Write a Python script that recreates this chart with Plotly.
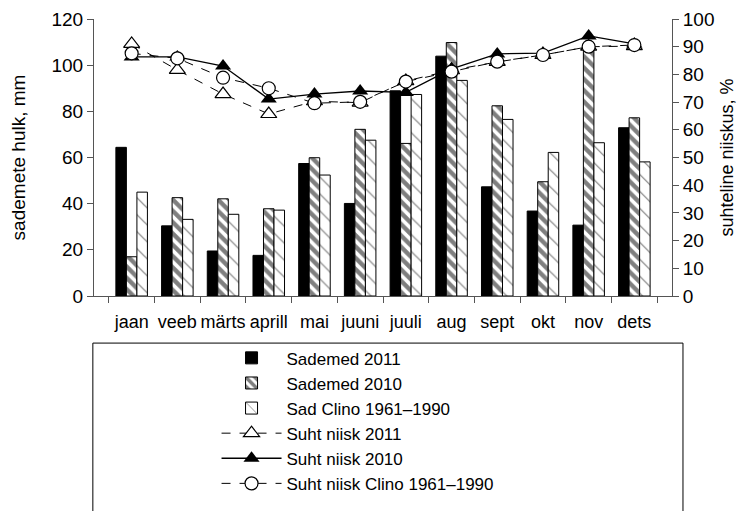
import plotly.graph_objects as go

months = ['jaan', 'veeb', 'märts', 'aprill', 'mai', 'juuni', 'juuli', 'aug', 'sept', 'okt', 'nov', 'dets']

# precipitation, mm
sad_2011 = [64.4, 30.4, 19.5, 17.6, 57.4, 40.1, 88.9, 103.9, 47.3, 36.8, 30.7, 72.9]
sad_2010 = [17.0, 42.6, 42.1, 37.8, 59.9, 72.2, 66.1, 109.8, 82.4, 49.5, 109.5, 77.2]
sad_clino = [45.0, 33.2, 35.4, 37.2, 52.4, 67.5, 87.3, 93.4, 76.5, 62.2, 66.4, 58.1]

# relative humidity, %
niisk_2011 = [91.0, 81.6, 72.9, 65.7, 70.3, 69.8, 77.6, 81.5, 84.5, 87.0, 90.0, 90.2]
niisk_2010 = [86.3, 86.3, 83.0, 71.1, 72.9, 74.0, 73.5, 82.0, 87.4, 87.7, 93.9, 91.0]
niisk_clino = [87.6, 85.8, 78.8, 75.0, 69.6, 70.1, 77.4, 81.0, 84.6, 87.0, 90.0, 90.6]

fig = go.Figure()

fig.add_trace(go.Bar(x=months, y=sad_2011, name='Sademed 2011',
                     marker=dict(color='black', line=dict(color='black', width=1))))
fig.add_trace(go.Bar(x=months, y=sad_2010, name='Sademed 2010',
                     marker=dict(color='white', line=dict(color='black', width=1),
                                 pattern=dict(shape='\\', fgcolor='black', bgcolor='white',
                                              size=8, solidity=0.55))))
fig.add_trace(go.Bar(x=months, y=sad_clino, name='Sad Clino 1961–1990',
                     marker=dict(color='white', line=dict(color='black', width=1),
                                 pattern=dict(shape='\\', fgcolor='black', bgcolor='white',
                                              size=12, solidity=0.1))))

fig.add_trace(go.Scatter(x=months, y=niisk_2011, name='Suht niisk 2011', yaxis='y2',
                         mode='lines+markers',
                         line=dict(color='black', width=1, dash='dash'),
                         marker=dict(symbol='triangle-up', size=14, color='white',
                                     line=dict(color='black', width=1.2))))
fig.add_trace(go.Scatter(x=months, y=niisk_2010, name='Suht niisk 2010', yaxis='y2',
                         mode='lines+markers',
                         line=dict(color='black', width=1.3),
                         marker=dict(symbol='triangle-up', size=14, color='black')))
fig.add_trace(go.Scatter(x=months, y=niisk_clino, name='Suht niisk Clino 1961–1990', yaxis='y2',
                         mode='lines+markers',
                         line=dict(color='black', width=1, dash='dash'),
                         marker=dict(symbol='circle', size=13, color='white',
                                     line=dict(color='black', width=1.2))))

axis_font = dict(family='Liberation Sans, Arial, sans-serif', size=19, color='black')

# page body has an 8px margin, so the figure is 8px smaller each way
fig.update_layout(
    width=743, height=503,
    margin=dict(l=86, r=79, t=11, b=215, autoexpand=False),
    plot_bgcolor='white', paper_bgcolor='white',
    barmode='group', bargap=0.31, bargroupgap=0,
    font=axis_font,
    xaxis=dict(tickfont=dict(family='Liberation Sans Narrow, Arial Narrow, Liberation Sans', size=18),
               tickangle=0, ticklabelstandoff=9, automargin=False,
               showline=True, linecolor='#555', linewidth=1,
               ticks='outside', ticklen=6, tickcolor='#555', tickson='boundaries',
               showgrid=False),
    yaxis=dict(title=dict(text='sademete hulk, mm', font=dict(size=19), standoff=22),
               range=[0, 120], dtick=20, showgrid=False, zeroline=False, automargin=False,
               showline=True, linecolor='#555', linewidth=1,
               ticks='outside', ticklen=6, tickcolor='#555'),
    yaxis2=dict(title=dict(text='suhteline niiskus, %', font=dict(size=18), standoff=6),
                range=[0, 100], dtick=10, overlaying='y', side='right',
                showgrid=False, zeroline=False, automargin=False,
                showline=True, linecolor='#555', linewidth=1,
                ticks='outside', ticklen=6, tickcolor='#555'),
    legend=dict(x=0.212, y=-0.16, xanchor='left', yanchor='top',
                font=dict(size=17), bgcolor='rgba(0,0,0,0)',
                tracegroupgap=0, itemwidth=60, traceorder='normal'),
    shapes=[dict(type='rect', xref='paper', yref='paper',
                 x0=-0.002, x1=1.019, y0=-0.17, y1=-0.8,
                 line=dict(color='black', width=1))],
)

fig.write_html('out.html')
